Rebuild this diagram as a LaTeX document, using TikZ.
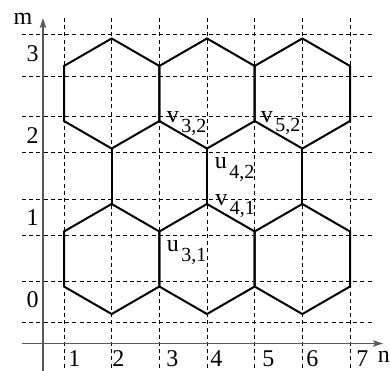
\documentclass[tikz,border=0pt]{standalone}
\usepackage{fontspec}
\setmainfont{Liberation Serif}
\usetikzlibrary{arrows.meta}
\newcommand\vsub[2]{#1\kern1.2pt\raisebox{-4.8pt}{\fontsize{10}{10}\selectfont #2}}
\begin{document}
\begin{tikzpicture}[x=0.5pt,y=-0.5pt,
  gridline/.style={line width=0.5pt, dash pattern=on 2pt off 1.6pt},
  hexedge/.style={line width=1pt, line join=miter},
  axisline/.style={line width=0.6pt, black!65, -{Stealth[length=5pt,width=3.2pt,inset=1pt]}},
  ticklabel/.style={inner sep=0pt, anchor=base, font=\fontsize{12}{14}\selectfont},
  nlabel/.style={inner sep=0pt, anchor=base west, font=\fontsize{12}{14}\selectfont},
  vlabel/.style={inner sep=0pt, anchor=base west, font=\fontsize{12}{14}\selectfont}]
\useasboundingbox (0,0) rectangle (390,370);

% dashed grid
\foreach \n in {1,...,7}{
  \draw[gridline] ({64+(\n-1)*47.667},18) -- ({64+(\n-1)*47.667},372);
}
\foreach \yy in {34,76,116,152.3,199,235,281.5,322.7}{
  \draw[gridline] (22,\yy) -- (373,\yy);
}

% axes
\coordinate (xa0) at (22,343.5);
\coordinate (xa1) at (383,343.5);
\coordinate (ya0) at (43,372);
\coordinate (ya1) at (43,18);
\draw[axisline] (xa0) -- (xa1);
\draw[axisline] (ya0) -- (ya1);
\node[ticklabel] (mlab) at (23,24) {m};
\node[nlabel] (nlab) at (377.5,362) {n};

% axis numbers
\node[ticklabel] (m3) at (32.5,61) {3};
\node[ticklabel] (m2) at (32.5,143) {2};
\node[ticklabel] (m1) at (32.5,225.5) {1};
\node[ticklabel] (m0) at (32.5,307.7) {0};
\foreach \lx/\t in {68/1,112/2,166/3,210/4,262/5,306/6,356/7}{
  \node[nlabel] (n\t) at (\lx,366) {\t};
}

% hexagons
\foreach \cx/\cy in {111.667/93.5,207/93.5,302.333/93.5,111.667/259,207/259,302.333/259}{
  \draw[hexedge] (\cx,{\cy-55.04}) -- ({\cx+47.667},{\cy-27.52}) -- ({\cx+47.667},{\cy+27.52})
    -- (\cx,{\cy+55.04}) -- ({\cx-47.667},{\cy+27.52}) -- ({\cx-47.667},{\cy-27.52}) -- cycle;
}
\foreach \cx in {111.667,207,302.333}{
  \draw[hexedge] (\cx,148.54) -- (\cx,203.96);
}

% vertex labels
\node[vlabel] (v32) at (166.5,122.5) {\vsub{v}{3,2}};
\node[vlabel] (v52) at (260.5,122) {\vsub{v}{5,2}};
\node[vlabel] (u42) at (214.5,168.5) {\vsub{u}{4,2}};
\node[vlabel] (v41) at (215,205) {\vsub{v}{4,1}};
\node[vlabel] (u31) at (166.5,251.5) {\vsub{u}{3,1}};
\end{tikzpicture}
\end{document}
